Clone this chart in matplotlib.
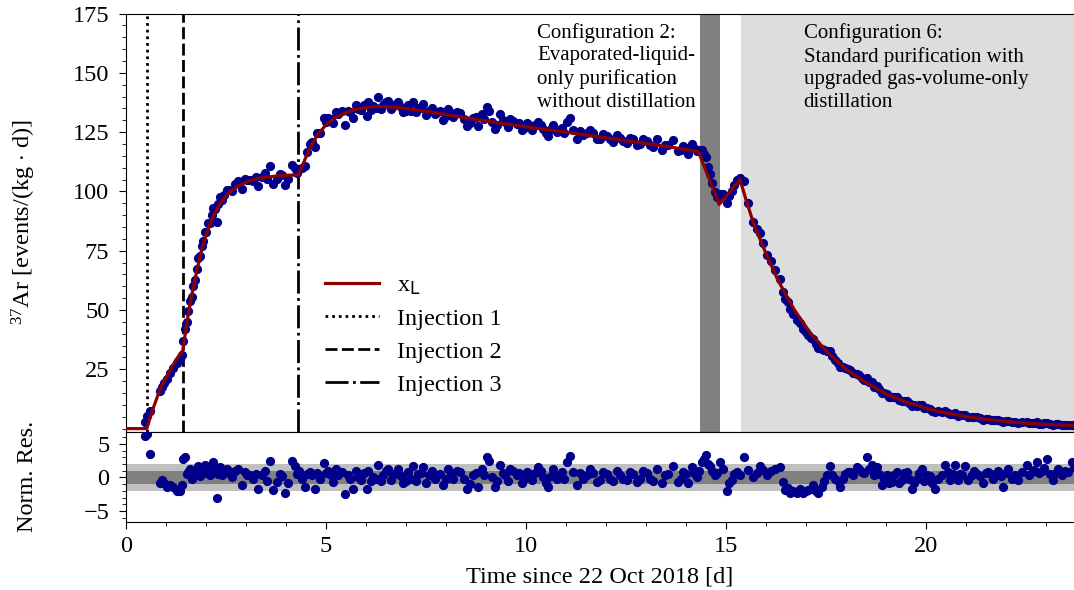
import matplotlib
matplotlib.use("Agg")
import matplotlib.pyplot as plt
from matplotlib.ticker import MultipleLocator

times = [0.48, 0.52, 0.60, 0.85, 0.89, 0.95, 1.02, 1.10, 1.18, 1.27,
         1.35, 1.39, 1.43, 1.47, 1.52, 1.56, 1.60, 1.64, 1.68, 1.72,
         1.77, 1.81, 1.85, 1.89, 1.93, 1.97, 2.01, 2.06, 2.10, 2.14,
         2.18, 2.22, 2.27, 2.31, 2.35, 2.39, 2.45, 2.52, 2.58, 2.64,
         2.72, 2.81, 2.89, 2.97, 3.03, 3.10, 3.18, 3.25, 3.31, 3.39,
         3.47, 3.53, 3.60, 3.68, 3.77, 3.85, 3.91, 3.97, 4.06, 4.14,
         4.22, 4.27, 4.33, 4.39, 4.47, 4.53, 4.60, 4.66, 4.72, 4.78,
         4.85, 4.95, 5.00, 5.06, 5.12, 5.18, 5.24, 5.31, 5.40, 5.48,
         5.54, 5.60, 5.68, 5.74, 5.81, 5.88, 5.95, 6.02, 6.06, 6.12,
         6.18, 6.25, 6.31, 6.37, 6.43, 6.50, 6.56, 6.62, 6.68, 6.75,
         6.81, 6.87, 6.93, 7.00, 7.06, 7.12, 7.18, 7.25, 7.31, 7.37,
         7.43, 7.50, 7.58, 7.65, 7.73, 7.77, 7.85, 7.93, 8.00, 8.06,
         8.12, 8.18, 8.27, 8.35, 8.44, 8.52, 8.60, 8.68, 8.75, 8.81,
         8.89, 8.96, 9.03, 9.08, 9.14, 9.22, 9.28, 9.35, 9.42, 9.48,
         9.54, 9.60, 9.68, 9.77, 9.83, 9.89, 9.95, 10.02, 10.08, 10.14,
         10.22, 10.31, 10.37, 10.43, 10.50, 10.56, 10.62, 10.68, 10.77, 10.83,
         10.89, 10.95, 11.02, 11.10, 11.18, 11.27, 11.35, 11.43, 11.52, 11.60,
         11.68, 11.77, 11.85, 11.93, 12.02, 12.10, 12.18, 12.27, 12.35, 12.43,
         12.52, 12.60, 12.68, 12.77, 12.85, 12.93, 13.02, 13.10, 13.18, 13.27,
         13.39, 13.47, 13.56, 13.68, 13.81, 13.87, 13.93, 14.00, 14.06, 14.14,
         14.20, 14.27, 14.33, 14.39, 14.45, 14.50, 14.55, 14.60, 14.66, 14.72,
         14.78, 14.85, 14.93, 15.03, 15.08, 15.14, 15.20, 15.27, 15.35, 15.45,
         15.56, 15.68, 15.77, 15.85, 15.93, 16.02, 16.12, 16.23, 16.35, 16.43,
         16.48, 16.54, 16.60, 16.68, 16.77, 16.85, 16.93, 17.00, 17.06, 17.12,
         17.18, 17.25, 17.31, 17.39, 17.45, 17.52, 17.60, 17.66, 17.73, 17.79,
         17.85, 17.92, 17.98, 18.04, 18.10, 18.18, 18.27, 18.33, 18.39, 18.45,
         18.52, 18.58, 18.64, 18.70, 18.77, 18.83, 18.89, 18.95, 19.02, 19.08,
         19.14, 19.20, 19.27, 19.33, 19.39, 19.45, 19.52, 19.58, 19.64, 19.70,
         19.77, 19.83, 19.89, 19.95, 20.02, 20.09, 20.16, 20.23, 20.31, 20.39,
         20.48, 20.54, 20.60, 20.67, 20.73, 20.79, 20.85, 20.91, 20.98, 21.06,
         21.14, 21.20, 21.27, 21.35, 21.43, 21.50, 21.56, 21.62, 21.68, 21.75,
         21.81, 21.87, 21.93, 22.00, 22.06, 22.14, 22.23, 22.31, 22.40, 22.52,
         22.58, 22.64, 22.70, 22.77, 22.83, 22.89, 22.95, 23.02, 23.10, 23.18,
         23.25, 23.31, 23.40, 23.48, 23.56, 23.64, 23.69]
rate = [3.0, 5.5, 7.5, 15.9, 17.5, 19.1, 21.0, 23.5, 25.6, 27.6,
        29.5, 31.2, 36.8, 41.8, 44.8, 49.4, 53.7, 55.5, 60.3, 62.8,
        67.3, 71.8, 72.6, 77.0, 79.0, 82.8, 82.9, 86.6, 86.6, 89.9,
        93.2, 92.4, 87.3, 94.5, 97.7, 96.3, 98.3, 100.6, 100.4, 100.3,
        103.0, 104.5, 100.9, 105.1, 104.8, 105.0, 104.6, 106.1, 102.3, 106.2,
        107.6, 105.1, 110.6, 103.0, 105.3, 107.5, 107.0, 102.5, 105.2, 111.3,
        110.0, 107.9, 109.6, 109.7, 110.8, 116.6, 120.0, 120.8, 118.6, 124.8,
        124.6, 131.1, 129.2, 130.9, 130.5, 129.0, 133.4, 132.5, 134.1, 128.1,
        134.1, 133.5, 131.1, 136.4, 134.9, 134.2, 136.4, 132.0, 137.5, 134.5,
        135.9, 135.2, 139.6, 134.8, 136.3, 137.5, 138.3, 134.9, 136.2, 136.7,
        137.9, 135.6, 133.3, 133.9, 136.4, 134.1, 137.9, 133.3, 135.2, 135.3,
        136.9, 132.1, 134.1, 135.2, 132.7, 133.6, 133.8, 130.2, 131.8, 134.8,
        133.2, 131.5, 133.6, 133.0, 130.6, 127.7, 128.8, 131.1, 131.5, 127.5,
        132.5, 130.6, 135.5, 134.1, 129.4, 126.4, 127.9, 132.5, 129.9, 129.1,
        127.2, 130.7, 129.7, 128.4, 128.8, 125.8, 126.9, 128.7, 128.0, 126.1,
        128.1, 129.4, 128.1, 126.4, 124.5, 123.3, 126.2, 128.2, 125.1, 125.9,
        126.7, 124.5, 129.3, 130.9, 126.1, 122.1, 125.4, 123.6, 124.6, 126.1,
        124.7, 121.9, 122.2, 124.3, 123.5, 122.0, 121.0, 123.9, 122.6, 121.2,
        120.6, 122.7, 121.9, 119.5, 120.0, 122.3, 121.3, 119.6, 118.7, 122.0,
        117.6, 119.7, 119.7, 121.7, 116.9, 117.6, 119.3, 118.5, 115.8, 120.1,
        118.2, 117.0, 117.6, 117.6, 115.9, 114.5, 110.1, 107.4, 103.5, 99.7,
        97.6, 98.7, 98.7, 95.0, 98.2, 100.1, 102.9, 104.8, 105.7, 104.4,
        95.1, 87.2, 84.1, 82.5, 78.2, 73.4, 70.6, 66.9, 63.0, 57.6,
        54.6, 53.2, 50.4, 48.3, 45.7, 44.5, 42.0, 40.7, 39.4, 38.2,
        37.7, 35.6, 34.0, 33.5, 33.3, 32.8, 32.8, 30.6, 29.0, 27.8,
        26.1, 26.0, 25.7, 25.3, 24.6, 23.3, 23.2, 22.4, 21.3, 20.5,
        21.5, 19.5, 19.5, 17.7, 17.9, 16.6, 14.9, 14.9, 14.7, 13.5,
        13.2, 13.4, 13.3, 11.9, 11.7, 11.8, 11.5, 10.6, 9.6, 9.8,
        9.7, 9.9, 9.9, 8.7, 8.6, 8.3, 7.6, 6.9, 7.3, 7.2,
        7.5, 6.7, 6.1, 6.2, 6.7, 5.5, 5.7, 5.6, 5.9, 4.8,
        4.9, 5.0, 4.7, 4.4, 3.8, 4.1, 4.1, 3.8, 3.5, 3.6,
        3.6, 3.3, 2.7, 3.2, 3.2, 2.7, 2.8, 2.5, 2.6, 2.8,
        2.3, 2.4, 2.4, 2.6, 2.1, 2.1, 2.2, 2.4, 1.8, 1.6,
        1.8, 1.9, 1.5, 1.7, 1.5, 1.6, 1.6]
norm_res = [6.1, 6.4, 3.5, -0.9, -0.4, -0.9, -1.4, -1.2, -1.5, -2.1,
            -2.1, -1.1, 2.7, 3.0, 0.5, 0.8, 1.3, -0.2, 0.9, 0.3,
            0.6, 1.7, 0.2, 1.3, 1.0, 1.9, 0.6, 1.5, 0.3, 1.2,
            2.3, 1.0, -3.1, 0.5, 1.6, 0.3, 0.8, 1.3, 0.6, 0.05,
            1.0, 1.3, -1.2, 0.8, 0.4, 0.3, -0.2, 0.5, -1.7, 0.3,
            1.0, -0.5, 2.5, -1.9, -0.7, 0.5, 0.2, -2.4, -0.9, 2.5,
            1.7, 0.5, 1.0, -0.2, -1.4, 0.5, 0.8, 0.3, -1.7, 0.7,
            -0.2, 2.1, 0.6, 1.0, 0.4, -0.7, 1.2, 0.3, 0.8, -2.5,
            0.3, -0.2, -1.7, 0.9, 0.05, -0.4, 0.6, -1.7, 1.0, -0.6,
            0.05, -0.3, 1.9, -0.5, 0.3, 0.9, 1.3, -0.4, 0.3, 0.6,
            1.3, 0.2, -0.9, -0.5, 0.8, -0.3, 1.7, -0.5, 0.5, 0.6,
            1.5, -0.8, 0.3, 0.9, -0.2, 0.3, 0.5, -1.2, -0.3, 1.3,
            0.6, -0.2, 1.0, 0.8, -0.3, -1.7, -1.0, 0.3, 0.6, -1.4,
            1.3, 0.4, 3.0, 2.4, 0.05, -1.4, -0.5, 1.9, 0.6, 0.3,
            -0.6, 1.3, 0.9, 0.3, 0.6, -0.9, -0.2, 0.8, 0.5, -0.4,
            0.7, 1.5, 0.9, 0.05, -0.8, -1.4, 0.2, 1.3, -0.2, 0.3,
            0.8, -0.3, 2.3, 3.2, 0.8, -1.2, 0.6, -0.2, 0.4, 1.3,
            0.7, -0.7, -0.4, 0.8, 0.5, -0.2, -0.6, 1.0, 0.4, -0.2,
            -0.4, 0.8, 0.5, -0.7, -0.3, 1.0, 0.6, -0.2, -0.6, 1.3,
            -0.9, 0.3, 0.5, 1.7, -0.7, -0.2, 0.8, 0.5, -0.9, 1.5,
            0.6, 0.05, 0.9, 2.3, 2.8, 3.3, 2.0, 1.7, 1.0, 0.3,
            0.6, 2.3, 1.3, -2.1, -0.8, -0.4, 0.5, 0.8, 0.4, 3.0,
            1.1, 0.05, 0.6, 1.7, 1.1, 0.3, 0.9, 1.3, 1.5, -0.7,
            -1.9, -1.6, -2.4, -2.1, -2.4, -1.7, -2.4, -2.0, -1.9, -1.8,
            -1.2, -2.0, -2.4, -1.4, -0.5, 0.3, 1.7, 0.3, -0.2, -0.6,
            -1.4, -0.3, 0.5, 0.8, 0.8, 0.4, 1.5, 1.3, 0.8, 0.6,
            3.0, 1.2, 1.9, 0.3, 1.5, 0.5, -1.2, -0.3, 0.3, -0.9,
            -0.7, 0.3, 0.8, -0.8, -0.4, 0.6, 0.8, -0.3, -1.7, -0.8,
            -0.2, 0.7, 1.3, -0.5, 0.3, 0.2, -0.8, -1.7, -0.2, 0.4,
            1.9, 0.8, -0.4, 0.5, 1.9, -0.4, 0.5, 0.4, 1.7, -0.4,
            0.3, 1.0, 0.5, 0.2, -0.9, 0.7, 0.8, 0.5, -0.2, 0.4,
            1.0, 0.2, -1.4, 0.6, 1.3, -0.3, 0.3, -0.4, 0.8, 1.9,
            0.4, 0.8, 1.1, 2.3, 0.6, 1.0, 1.4, 2.7, 0.5, -0.4,
            0.7, 1.3, 0.3, 1.0, 0.8, 2.3, 1.5]

# Fitted model x_L (knots)
model_t = [0.00, 0.52, 0.60, 0.70, 0.85, 1.00, 1.10, 1.25, 1.42, 1.50,
           1.56, 1.66, 1.77, 1.88, 1.98, 2.15, 2.35, 2.55, 2.77, 3.05,
           3.35, 3.80, 4.31, 4.45, 4.60, 4.80, 5.02, 5.30, 5.68, 6.18,
           6.60, 6.93, 7.60, 8.27, 9.00, 10.00, 11.18, 12.50, 13.50, 14.31,
           14.83, 15.35, 15.50, 15.70, 16.00, 16.30, 16.70, 17.10, 17.50, 18.00,
           18.50, 19.00, 19.50, 20.00, 20.50, 21.00, 21.50, 22.00, 22.50, 23.00,
           23.70]
model_v = [0.0, 0.0, 4.5, 9.5, 16.5, 21.5, 24.5, 29.0, 33.0, 42.0,
           48.5, 57.5, 66.5, 74.5, 80.5, 88.5, 95.0, 99.0, 102.0, 104.3,
           105.6, 106.6, 107.0, 112.5, 118.5, 124.0, 128.5, 131.8, 134.4, 135.8,
           135.7, 135.1, 133.5, 131.6, 129.7, 127.2, 124.6, 121.4, 119.0, 116.8,
           94.5, 105.0, 96.5, 86.0, 73.8, 62.5, 50.3, 40.5, 32.8, 25.0,
           19.5, 14.6, 11.2, 8.6, 6.6, 5.1, 3.9, 3.0, 2.3, 1.8,
           1.3]

injections = [0.52, 1.42, 4.31]
injection_labels = ["Injection 1", "Injection 2", "Injection 3"]
transition = (14.34, 14.85)
config6_start = 15.38
t_max = 23.7

assert len(times) == len(rate) == len(norm_res)
assert len(model_t) == len(model_v)

plt.rcParams['font.family'] = ['Liberation Serif', 'DejaVu Serif']
plt.rcParams['mathtext.fontset'] = 'custom'
plt.rcParams['mathtext.rm'] = 'Liberation Serif'
plt.rcParams['mathtext.it'] = 'Liberation Serif:italic'
plt.rcParams['mathtext.bf'] = 'Liberation Serif:bold'
plt.rcParams['mathtext.sf'] = 'DejaVu Sans'
plt.rcParams['font.size'] = 17.5

fig = plt.figure(figsize=(10.74, 5.90), dpi=100)
ax = fig.add_axes([0.1173, 0.2683, 0.8827, 0.7088])
axr = fig.add_axes([0.1173, 0.1158, 0.8827, 0.1525], sharex=ax)

dot_color = '#00008b'
line_color = '#8b0000'

# top panel
ax.axvspan(transition[0], transition[1], color='#808080', lw=0, zorder=0)
ax.axvspan(config6_start, t_max, color='#dddddd', lw=0, zorder=0)
ax.scatter(times, rate, s=44, color=dot_color, lw=0, zorder=3)
fit_line, = ax.plot(model_t, model_v, color=line_color, lw=2.3, zorder=4,
                    label='x$_{\\mathsf{L}}$')

styles = [(0, (1, 1.4)), (0, (4.3, 1.6)), (0, (8.3, 1.6, 1.0, 1.6))]
handles = [fit_line]
for t_inj, lab, ls in zip(injections, injection_labels, styles):
    h = ax.axvline(t_inj, color='black', lw=2.0, ls=ls, zorder=2, label=lab)
    handles.append(h)

ax.text(10.28, 171.0, "Configuration 2:\nEvaporated-liquid-\nonly purification\nwithout distillation",
        fontsize=15, va='top', ha='left', linespacing=1.25)
ax.text(16.94, 171.0, "Configuration 6:\nStandard purification with\nupgraded gas-volume-only\ndistillation",
        fontsize=15, va='top', ha='left', linespacing=1.25)

ax.legend(handles=handles, loc='center left', bbox_to_anchor=(0.187, 0.231),
          frameon=False, handlelength=2.2, handletextpad=0.75,
          fontsize=17.5, labelspacing=0.45)

ax.set_xlim(0, t_max)
ax.set_ylim(-1.3, 175)
ax.set_yticks([25, 50, 75, 100, 125, 150, 175])
ax.yaxis.set_minor_locator(MultipleLocator(5))
ax.tick_params(axis='x', which='both', bottom=False, labelbottom=False)
ax.tick_params(axis='y', which='major', length=5, pad=7)
ax.tick_params(axis='y', which='minor', length=2.6)
ax.spines['right'].set_visible(False)
ax.set_ylabel('$^{37}$Ar [events/(kg $\\cdot$ d)]')
ax.yaxis.set_label_coords(-0.093, 0.5)

# residual panel
axr.axhspan(-2, 2, color='#c0c0c0', lw=0, zorder=0)
axr.axhspan(-1, 1, color='#808080', lw=0, zorder=1)
axr.scatter(times, norm_res, s=44, color=dot_color, lw=0, zorder=3)
axr.set_ylim(-6.6, 6.8)
axr.set_yticks([-5, 0, 5])
axr.yaxis.set_minor_locator(MultipleLocator(1))
axr.xaxis.set_major_locator(MultipleLocator(5))
axr.xaxis.set_minor_locator(MultipleLocator(1))
axr.tick_params(axis='x', which='major', length=5, pad=5)
axr.tick_params(axis='y', which='major', length=5, pad=7)
axr.tick_params(which='minor', length=2.8)
axr.spines['right'].set_visible(False)
axr.set_ylabel('Norm. Res.')
axr.yaxis.set_label_coords(-0.093, 0.5)
axr.set_xlabel('Time since 22 Oct 2018 [d]', labelpad=7)

fig.savefig('out.png', dpi=100)
